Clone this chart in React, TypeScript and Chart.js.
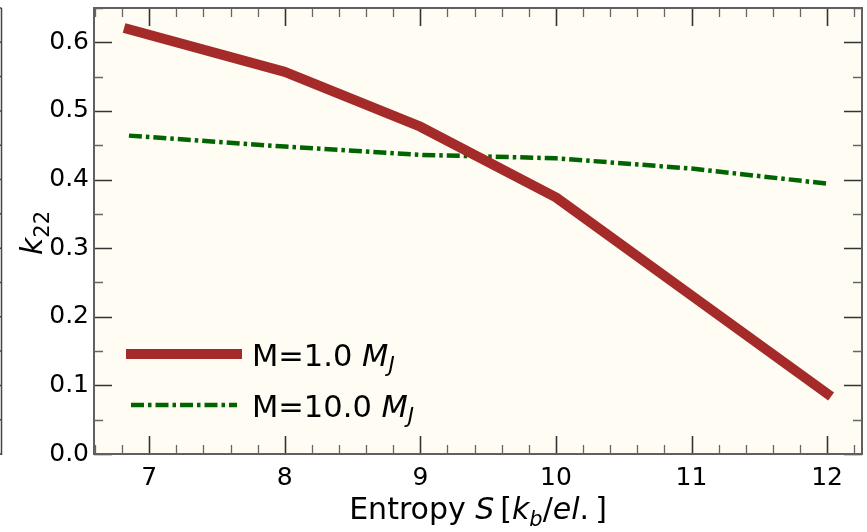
import React, { useEffect, useRef } from "react";
import { Chart, registerables } from "chart.js";

Chart.register(...registerables);

// ---- data ----
const entropy = [6.85, 8, 9, 10, 11, 12];
const k22M1 = [0.619, 0.557, 0.477, 0.374, 0.231, 0.088];
const k22M10 = [0.464, 0.448, 0.436, 0.431, 0.416, 0.394];
const xTickValues = [7, 8, 9, 10, 11, 12];
const yTickValues = [0.0, 0.1, 0.2, 0.3, 0.4, 0.5, 0.6];
const xMinorStep = 0.2;
const yMinorStep = 0.05;
const seriesLabels = ["M=1.0 ", "M=10.0 "];

const X_MIN = 6.5925;
const X_MAX = 12.2575;
const Y_MIN = 0;
const Y_MAX = 0.65;

const RED = "#a52a2a";
const GREEN = "#006400";
const BG = "#fffcf3";
const FONT = '"DejaVu Sans"';
const GREEN_DASH = [13, 4, 3.5, 4];

type Part = { t: string; it?: boolean; sub?: boolean };

function drawRich(ctx: CanvasRenderingContext2D, parts: Part[], x: number, y: number, size: number, align: "center" | "left") {
  const setFont = (p: Part) => {
    const s = p.sub ? size * 0.7 : size;
    ctx.font = `${p.it ? "italic " : ""}${s}px ${FONT}`;
  };
  let w = 0;
  for (const p of parts) {
    setFont(p);
    w += ctx.measureText(p.t).width;
  }
  let cx = align === "center" ? x - w / 2 : x;
  ctx.textAlign = "left";
  ctx.textBaseline = "alphabetic";
  for (const p of parts) {
    setFont(p);
    ctx.fillText(p.t, cx, y + (p.sub ? size * 0.22 : 0));
    cx += ctx.measureText(p.t).width;
  }
}

function range(min: number, max: number, step: number) {
  const out: number[] = [];
  const start = Math.ceil(min / step - 1e-9);
  const end = Math.floor(max / step + 1e-9);
  for (let i = start; i <= end; i++) out.push(+(i * step).toFixed(6));
  return out;
}

const bgPlugin = {
  id: "plotBg",
  beforeDraw(chart: any) {
    const { ctx, chartArea: a } = chart;
    ctx.save();
    ctx.fillStyle = BG;
    ctx.fillRect(a.left, a.top, a.right - a.left, a.bottom - a.top);
    ctx.restore();
  },
};

const framePlugin = {
  id: "frame",
  afterDraw(chart: any) {
    const { ctx, chartArea: a } = chart;
    const xs = chart.scales.x;
    const ys = chart.scales.y;
    ctx.save();

    // neighbouring panel's spine at the far left
    ctx.strokeStyle = "#444";
    ctx.lineWidth = 1.5;
    ctx.beginPath();
    ctx.moveTo(1.5, a.top);
    ctx.lineTo(1.5, a.bottom + 1);
    ctx.stroke();
    for (const v of range(Y_MIN, Y_MAX, yMinorStep)) {
      const py = ys.getPixelForValue(v);
      ctx.beginPath();
      ctx.moveTo(0, py);
      ctx.lineTo(1.5, py);
      ctx.stroke();
    }

    const MAJ = 18;
    const MIN = 9;
    // minor ticks
    ctx.strokeStyle = "#666";
    ctx.lineWidth = 1.3;
    for (const v of range(X_MIN, X_MAX, xMinorStep)) {
      if (xTickValues.some((t) => Math.abs(t - v) < 1e-6)) continue;
      const px = Math.round(xs.getPixelForValue(v)) + 0.5;
      ctx.beginPath();
      ctx.moveTo(px, a.bottom);
      ctx.lineTo(px, a.bottom - MIN);
      ctx.moveTo(px, a.top);
      ctx.lineTo(px, a.top + MIN);
      ctx.stroke();
    }
    for (const v of range(Y_MIN, Y_MAX, yMinorStep)) {
      if (yTickValues.some((t) => Math.abs(t - v) < 1e-6)) continue;
      const py = Math.round(ys.getPixelForValue(v)) + 0.5;
      ctx.beginPath();
      ctx.moveTo(a.left, py);
      ctx.lineTo(a.left + MIN, py);
      ctx.moveTo(a.right, py);
      ctx.lineTo(a.right - MIN, py);
      ctx.stroke();
    }
    // major ticks
    ctx.strokeStyle = "#333";
    ctx.lineWidth = 1.6;
    for (const v of xTickValues) {
      const px = Math.round(xs.getPixelForValue(v)) + 0.5;
      ctx.beginPath();
      ctx.moveTo(px, a.bottom);
      ctx.lineTo(px, a.bottom - MAJ);
      ctx.moveTo(px, a.top);
      ctx.lineTo(px, a.top + MAJ);
      ctx.stroke();
    }
    for (const v of yTickValues) {
      const py = Math.round(ys.getPixelForValue(v)) + 0.5;
      ctx.beginPath();
      ctx.moveTo(a.left, py);
      ctx.lineTo(a.left + MAJ, py);
      ctx.moveTo(a.right, py);
      ctx.lineTo(a.right - MAJ, py);
      ctx.stroke();
    }
    // spines
    ctx.strokeStyle = "#606060";
    ctx.lineWidth = 2;
    ctx.strokeRect(a.left, a.top, a.right - a.left, a.bottom - a.top);

    // legend
    const lx0 = a.left + 37;
    const lx1 = a.left + 143;
    const ly1 = a.top + 346;
    const ly2 = a.top + 397;
    ctx.lineCap = "square";
    ctx.strokeStyle = RED;
    ctx.lineWidth = 10;
    ctx.beginPath();
    ctx.moveTo(lx0, ly1);
    ctx.lineTo(lx1, ly1);
    ctx.stroke();
    ctx.lineCap = "butt";
    ctx.strokeStyle = GREEN;
    ctx.lineWidth = 4.5;
    ctx.setLineDash(GREEN_DASH);
    ctx.beginPath();
    ctx.moveTo(lx0, ly2);
    ctx.lineTo(lx1, ly2);
    ctx.stroke();
    ctx.setLineDash([]);

    ctx.fillStyle = "#000";
    const tx = a.left + 158;
    drawRich(ctx, [{ t: seriesLabels[0] }, { t: "M", it: true }, { t: "J", it: true, sub: true }], tx, ly1 + 11.5, 30.5, "left");
    drawRich(ctx, [{ t: seriesLabels[1] }, { t: "M", it: true }, { t: "J", it: true, sub: true }], tx, ly2 + 11.5, 30.5, "left");

    // x title
    drawRich(
      ctx,
      [
        { t: "Entropy " },
        { t: "S", it: true },
        { t: "\u2009[" },
        { t: "k", it: true },
        { t: "b", it: true, sub: true },
        { t: "/" },
        { t: "el", it: true },
        { t: ".\u2009]" },
      ],
      (a.left + a.right) / 2,
      519,
      30,
      "center"
    );

    // y title
    ctx.save();
    ctx.translate(42, 233);
    ctx.rotate(-Math.PI / 2);
    drawRich(ctx, [{ t: "k", it: true }, { t: "22", sub: true }], 0, 0, 30, "center");
    ctx.restore();

    ctx.restore();
  },
};

export default function App() {
  const ref = useRef<HTMLCanvasElement>(null);

  useEffect(() => {
    const canvas = ref.current;
    if (!canvas) return;
    const chart = new Chart(canvas, {
      type: "line",
      data: {
        datasets: [
          {
            label: "M=1.0 MJ",
            data: entropy.map((x, i) => ({ x, y: k22M1[i] })),
            borderColor: RED,
            borderWidth: 10,
            borderCapStyle: "square",
            borderJoinStyle: "round",
            pointRadius: 0,
            fill: false,
            tension: 0,
          },
          {
            label: "M=10.0 MJ",
            data: entropy.map((x, i) => ({ x, y: k22M10[i] })),
            borderColor: GREEN,
            borderWidth: 4.5,
            borderDash: GREEN_DASH,
            borderCapStyle: "butt",
            pointRadius: 0,
            fill: false,
            tension: 0,
          },
        ],
      },
      options: {
        responsive: false,
        animation: false,
        devicePixelRatio: 1,
        layout: { padding: { left: 0, top: 8, right: 5, bottom: 0 } },
        plugins: { legend: { display: false }, tooltip: { enabled: false } },
        scales: {
          x: {
            type: "linear",
            position: "bottom",
            min: X_MIN,
            max: X_MAX,
            afterBuildTicks: (s: any) => {
              s.ticks = xTickValues.map((v) => ({ value: v }));
            },
            afterFit: (s: any) => {
              s.height = 78;
              s.paddingLeft = 0;
              s.paddingRight = 0;
            },
            grid: { display: false, drawTicks: false },
            border: { display: false },
            ticks: {
              padding: 9,
              color: "#000",
              font: { family: "DejaVu Sans", size: 25 },
              maxRotation: 0,
              callback: (v: any) => String(v),
            },
          },
          y: {
            type: "linear",
            min: Y_MIN,
            max: Y_MAX,
            afterBuildTicks: (s: any) => {
              s.ticks = yTickValues.map((v) => ({ value: v }));
            },
            afterFit: (s: any) => {
              s.width = 94;
              s.paddingTop = 0;
              s.paddingBottom = 0;
            },
            grid: { display: false, drawTicks: false },
            border: { display: false },
            ticks: {
              padding: 5,
              color: "#000",
              font: { family: "DejaVu Sans", size: 25 },
              callback: (v: any) => Number(v).toFixed(1),
            },
          },
        },
      },
      plugins: [bgPlugin, framePlugin],
    } as any);
    return () => chart.destroy();
  }, []);

  return (
    <div style={{ position: "absolute", left: 0, top: 0, width: 867, height: 532, background: "#fff" }}>
      <canvas ref={ref} width={867} height={532} style={{ display: "block" }} />
    </div>
  );
}
